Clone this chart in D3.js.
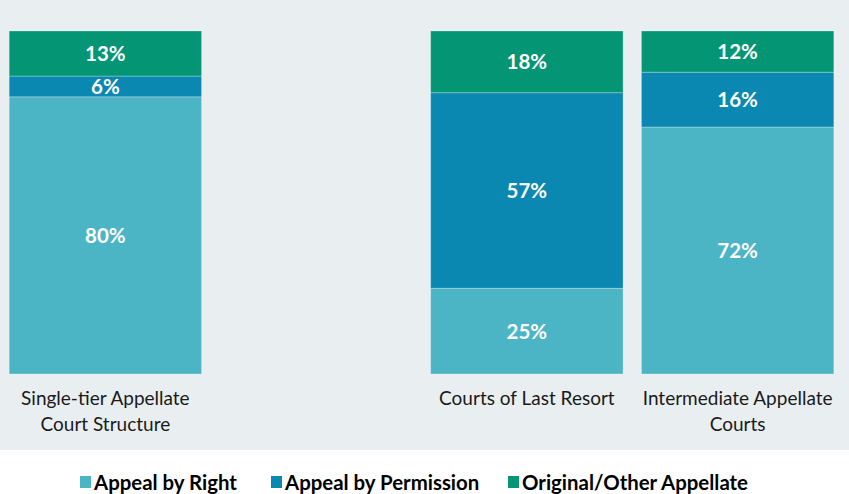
<!DOCTYPE html>
<html>
<head>
<meta charset="utf-8">
<script src="https://cdn.jsdelivr.net/npm/d3@7"></script>
<style>
  html, body { margin: 0; padding: 0; background: #ffffff; }
  svg { display: block; }
</style>
</head>
<body>
<svg id="chart" width="849" height="494"></svg>
<script>
// Appellate caseload composition by court structure (percent of filings)
const slots = ["Single-tier Appellate Court Structure", "gap", "Courts of Last Resort", "Intermediate Appellate Courts"];
const categories = ["Single-tier Appellate Court Structure", "Courts of Last Resort", "Intermediate Appellate Courts"];
const tickLabels = [["Single-tier Appellate", "Court Structure"], ["Courts of Last Resort"], ["Intermediate Appellate", "Courts"]];
const seriesNames = ["Appeal by Right", "Appeal by Permission", "Original/Other Appellate"];
const appealByRight = [80, 25, 72];
const appealByPermission = [6, 57, 16];
const originalOther = [13, 18, 12];
const colors = ["#4bb5c6", "#0a88b1", "#039574"];

const rows = categories.map((c, i) => ({
  category: c,
  "Appeal by Right": appealByRight[i],
  "Appeal by Permission": appealByPermission[i],
  "Original/Other Appellate": originalOther[i]
}));

const svg = d3.select("#chart");
const W = 849, H = 494;
const font = "Lato, 'Open Sans', sans-serif";

// plot-area backdrop
svg.append("rect").attr("x", 0).attr("y", 0).attr("width", W).attr("height", 450).attr("fill", "#e9eef1");

const x = d3.scaleBand().domain(slots).range([0, 843]).paddingInner(0.087).paddingOuter(0.0435);
const y = d3.scaleLinear().domain([0, 1]).range([374, 31]);
const color = d3.scaleOrdinal().domain(seriesNames).range(colors);

// stacked to 100% of each column
const stacked = d3.stack().keys(seriesNames).offset(d3.stackOffsetExpand)(rows);

const layers = svg.append("g").selectAll("g").data(stacked).join("g")
  .attr("fill", d => color(d.key));

layers.selectAll("rect").data(d => d).join("rect")
  .attr("x", d => x(d.data.category))
  .attr("width", x.bandwidth())
  .attr("y", d => y(d[1]))
  .attr("height", d => y(d[0]) - y(d[1]))
  .attr("stroke", "#ffffff")
  .attr("stroke-opacity", 0.35)
  .attr("stroke-width", 0.8);

// value labels
layers.selectAll("text").data(d => d.map(v => ({ v, key: d.key }))).join("text")
  .attr("x", d => x(d.v.data.category) + x.bandwidth() / 2)
  .attr("y", d => (y(d.v[0]) + y(d.v[1])) / 2)
  .attr("dy", "0.36em")
  .attr("text-anchor", "middle")
  .attr("fill", "#ffffff")
  .attr("font-family", font)
  .attr("font-weight", "bold")
  .attr("font-size", 20.5)
  .text(d => d.v.data[d.key] + "%");

// category axis
const axis = d3.axisBottom(x).tickSize(0).tickFormat(() => "");
const axisG = svg.append("g").attr("transform", "translate(0,374)").call(axis);
axisG.select(".domain").remove();
axisG.selectAll(".tick").each(function (d) {
  const idx = categories.indexOf(d);
  if (idx < 0) return;
  const t = d3.select(this).select("text")
    .attr("y", 0)
    .attr("dy", null)
    .attr("fill", "#1a1a1a")
    .attr("font-family", font)
    .attr("font-size", 19)
    .text(null);
  tickLabels[idx].forEach((line, j) => {
    t.append("tspan").attr("x", 0).attr("y", 31 + j * 25.5).text(line);
  });
});

// legend
const legendX = [80, 271, 508];
const legend = svg.append("g").selectAll("g").data(seriesNames).join("g")
  .attr("transform", (d, i) => `translate(${legendX[i]},476)`);
legend.append("rect").attr("width", 11).attr("height", 12).attr("fill", d => color(d));
legend.append("text")
  .attr("x", 14).attr("y", 14)
  .attr("font-family", font)
  .attr("font-weight", "bold")
  .attr("font-size", 20.4)
  .attr("fill", "#000000")
  .text(d => d);
</script>
</body>
</html>
